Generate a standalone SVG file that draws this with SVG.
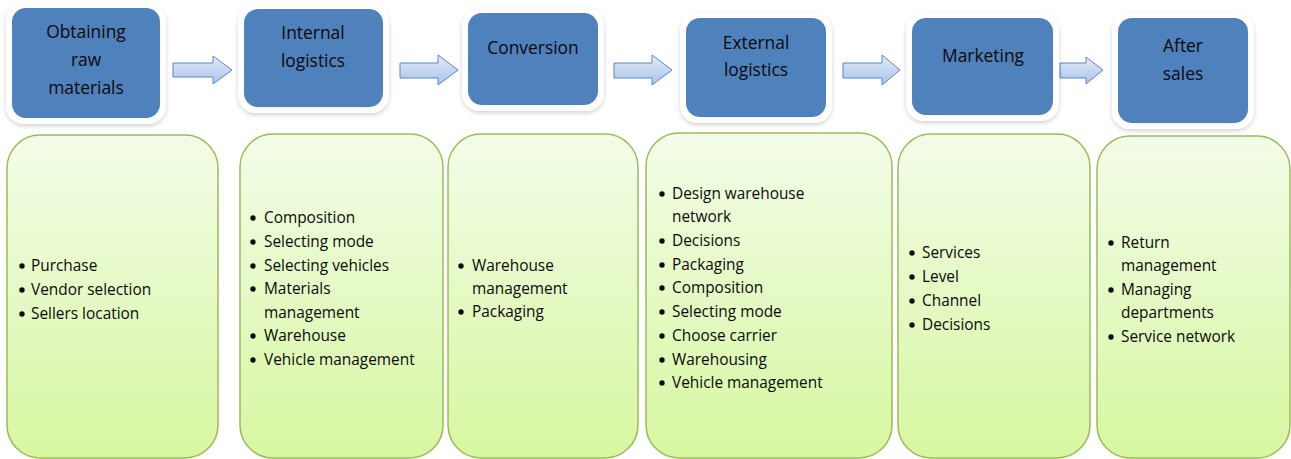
<svg xmlns="http://www.w3.org/2000/svg" width="1291" height="459" viewBox="0 0 1291 459">
<defs>
<linearGradient id="gGreen" x1="0" y1="0" x2="0" y2="1"><stop offset="0" stop-color="#f3fce8"/><stop offset="1" stop-color="#d7f7a0"/></linearGradient>
<linearGradient id="gArrow" x1="0" y1="0" x2="0" y2="1"><stop offset="0" stop-color="#e3ecfa"/><stop offset="1" stop-color="#a9c3ea"/></linearGradient>
<filter id="sh" x="-10%" y="-10%" width="120%" height="130%"><feDropShadow dx="0" dy="2" stdDeviation="2" flood-color="#000" flood-opacity="0.18"/></filter>
</defs>
<style>
.frame{fill:#ffffff;filter:url(#sh)}
.blue{fill:#4f81bd}
.green{fill:url(#gGreen);stroke:#9bbb59;stroke-width:1.5}
.arrow{fill:url(#gArrow);stroke:#5b86c5;stroke-width:1}
.t{font-family:"Open Sans","Liberation Sans",sans-serif;font-size:17.4px;fill:#0a0a0a;text-anchor:middle}
.b{font-family:"Open Sans","Liberation Sans",sans-serif;font-size:15.4px;fill:#0a0a0a}
.dot{fill:#0a0a0a}
</style>
<rect width="1291" height="459" fill="#ffffff"/>
<g id="connectors">
<path class="arrow" d="M173,63 H213 V56 L232,70 L213,84 V77 H173 Z"/>
<path class="arrow" d="M400,63 H438 V55 L458,70 L438,85 V78 H400 Z"/>
<path class="arrow" d="M614,63 H652 V55 L672,70 L652,85 V78 H614 Z"/>
<path class="arrow" d="M843,63 H882 V55 L900,70 L882,85 V78 H843 Z"/>
<path class="arrow" d="M1060,63 H1086 V57 L1103,70 L1086,84 V78 H1060 Z"/>
</g>
<g id="n1">
<rect class="frame" x="6" y="3" width="160" height="121" rx="18"/>
<rect class="blue" x="12" y="8" width="148" height="110" rx="14"/>
<text class="t" x="86" y="38">Obtaining</text>
<text class="t" x="86" y="66">raw</text>
<text class="t" x="86" y="94">materials</text>
</g>
<g id="n2">
<rect class="frame" x="238" y="4" width="151" height="109" rx="18"/>
<rect class="blue" x="244" y="9" width="139" height="98" rx="14"/>
<text class="t" x="313" y="39">Internal</text>
<text class="t" x="313" y="67">logistics</text>
</g>
<g id="n3">
<rect class="frame" x="462" y="8" width="142" height="103" rx="18"/>
<rect class="blue" x="468" y="13" width="130" height="92" rx="14"/>
<text class="t" x="533" y="54">Conversion</text>
</g>
<g id="n4">
<rect class="frame" x="680" y="13" width="152" height="110" rx="18"/>
<rect class="blue" x="686" y="18" width="140" height="99" rx="14"/>
<text class="t" x="756" y="49">External</text>
<text class="t" x="756" y="76">logistics</text>
</g>
<g id="n5">
<rect class="frame" x="906" y="13" width="153" height="108" rx="18"/>
<rect class="blue" x="912" y="18" width="141" height="97" rx="14"/>
<text class="t" x="983" y="62">Marketing</text>
</g>
<g id="n6">
<rect class="frame" x="1112" y="13" width="142" height="116" rx="18"/>
<rect class="blue" x="1118" y="18" width="130" height="105" rx="14"/>
<text class="t" x="1183" y="52">After</text>
<text class="t" x="1183" y="80">sales</text>
</g>
<g id="d1">
<rect class="green" x="7" y="135" width="211" height="323" rx="33"/>
<circle class="dot" cx="22" cy="266" r="2.7"/><text class="b" x="31" y="271">Purchase</text>
<circle class="dot" cx="22" cy="290" r="2.7"/><text class="b" x="31" y="295">Vendor selection</text>
<circle class="dot" cx="22" cy="314" r="2.7"/><text class="b" x="31" y="319">Sellers location</text>
</g>
<g id="d2">
<rect class="green" x="240" y="134" width="203" height="324" rx="33"/>
<circle class="dot" cx="253" cy="218" r="2.7"/><text class="b" x="264" y="223">Composition</text>
<circle class="dot" cx="253" cy="242" r="2.7"/><text class="b" x="264" y="247">Selecting mode</text>
<circle class="dot" cx="253" cy="266" r="2.7"/><text class="b" x="264" y="271">Selecting vehicles</text>
<circle class="dot" cx="253" cy="289" r="2.7"/><text class="b" x="264" y="294">Materials</text>
<text class="b" x="264" y="318">management</text>
<circle class="dot" cx="253" cy="336" r="2.7"/><text class="b" x="264" y="341">Warehouse</text>
<circle class="dot" cx="253" cy="360" r="2.7"/><text class="b" x="264" y="365">Vehicle management</text>
</g>
<g id="d3">
<rect class="green" x="448" y="134" width="190" height="324" rx="33"/>
<circle class="dot" cx="461" cy="266" r="2.7"/><text class="b" x="472" y="271">Warehouse</text>
<text class="b" x="472" y="294">management</text>
<circle class="dot" cx="461" cy="312" r="2.7"/><text class="b" x="472" y="317">Packaging</text>
</g>
<g id="d4">
<rect class="green" x="646" y="133" width="246" height="325" rx="33"/>
<circle class="dot" cx="662" cy="194" r="2.7"/><text class="b" x="672" y="199">Design warehouse</text>
<text class="b" x="672" y="222">network</text>
<circle class="dot" cx="662" cy="241" r="2.7"/><text class="b" x="672" y="246">Decisions</text>
<circle class="dot" cx="662" cy="265" r="2.7"/><text class="b" x="672" y="270">Packaging</text>
<circle class="dot" cx="662" cy="288" r="2.7"/><text class="b" x="672" y="293">Composition</text>
<circle class="dot" cx="662" cy="312" r="2.7"/><text class="b" x="672" y="317">Selecting mode</text>
<circle class="dot" cx="662" cy="336" r="2.7"/><text class="b" x="672" y="341">Choose carrier</text>
<circle class="dot" cx="662" cy="360" r="2.7"/><text class="b" x="672" y="365">Warehousing</text>
<circle class="dot" cx="662" cy="383" r="2.7"/><text class="b" x="672" y="388">Vehicle management</text>
</g>
<g id="d5">
<rect class="green" x="898" y="134" width="192" height="324" rx="33"/>
<circle class="dot" cx="912" cy="253" r="2.7"/><text class="b" x="922" y="258">Services</text>
<circle class="dot" cx="912" cy="277" r="2.7"/><text class="b" x="922" y="282">Level</text>
<circle class="dot" cx="912" cy="301" r="2.7"/><text class="b" x="922" y="306">Channel</text>
<circle class="dot" cx="912" cy="325" r="2.7"/><text class="b" x="922" y="330">Decisions</text>
</g>
<g id="d6">
<rect class="green" x="1097" y="136" width="193" height="322" rx="33"/>
<circle class="dot" cx="1111" cy="243" r="2.7"/><text class="b" x="1121" y="248">Return</text>
<text class="b" x="1121" y="271">management</text>
<circle class="dot" cx="1111" cy="290" r="2.7"/><text class="b" x="1121" y="295">Managing</text>
<text class="b" x="1121" y="318">departments</text>
<circle class="dot" cx="1111" cy="337" r="2.7"/><text class="b" x="1121" y="342">Service network</text>
</g>
</svg>
